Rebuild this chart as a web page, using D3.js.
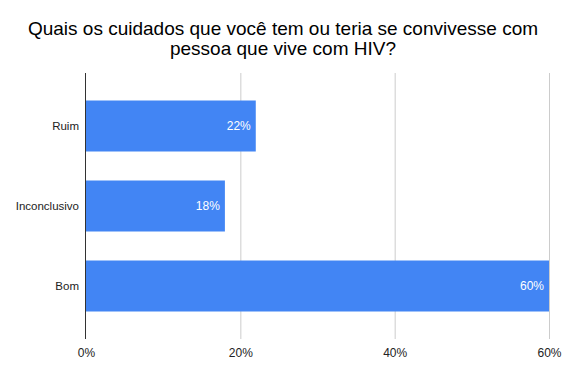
<!DOCTYPE html>
<html>
<head>
<meta charset="utf-8">
<script src="https://cdn.jsdelivr.net/npm/d3@7"></script>
<style>
  body { margin: 0; background: #fff; }
  text { font-family: "Liberation Sans", Arial, sans-serif; }
</style>
</head>
<body>
<div id="chart"></div>
<script>
// data
var categories = ['Ruim', 'Inconclusivo', 'Bom'];
var values = [22, 18, 60];
var ticks = [0, 20, 40, 60];
var titleLines = ['Quais os cuidados que você tem ou teria se convivesse com', 'pessoa que vive com HIV?'];

var width = 567, height = 378;
var margin = { top: 73, right: 18, bottom: 39, left: 86 };

var svg = d3.select('#chart').append('svg')
    .attr('width', width)
    .attr('height', height);

var x = d3.scaleLinear()
    .domain([0, 60])
    .range([margin.left, 549]);

var y = d3.scaleBand()
    .domain(categories)
    .range([margin.top, height - margin.bottom])
    .paddingInner(0.3625)
    .paddingOuter(0.34375);

// title
svg.append('g').selectAll('text')
    .data(titleLines)
    .enter().append('text')
    .attr('x', 283)
    .attr('y', function (d, i) { return 35 + i * 20; })
    .attr('text-anchor', 'middle')
    .attr('font-size', 19)
    .attr('fill', '#000')
    .text(function (d) { return d; });

// grid
svg.append('g').selectAll('line')
    .data(ticks.slice(1))
    .enter().append('line')
    .attr('x1', function (d) { return x(d) + 0.5; })
    .attr('x2', function (d) { return x(d) + 0.5; })
    .attr('y1', margin.top)
    .attr('y2', height - margin.bottom)
    .attr('stroke', '#cccccc')
    .attr('stroke-width', 1);

// bars
svg.append('g').selectAll('rect')
    .data(values)
    .enter().append('rect')
    .attr('x', x(0))
    .attr('y', function (d, i) { return y(categories[i]); })
    .attr('width', function (d) { return x(d) - x(0); })
    .attr('height', y.bandwidth())
    .attr('fill', '#4285f4');

// value labels
svg.append('g').selectAll('text')
    .data(values)
    .enter().append('text')
    .attr('x', function (d) { return x(d) - 5; })
    .attr('y', function (d, i) { return y(categories[i]) + y.bandwidth() / 2 + 4; })
    .attr('text-anchor', 'end')
    .attr('font-size', 12)
    .attr('fill', '#ffffff')
    .text(function (d) { return d + '%'; });

// y axis line
svg.append('line')
    .attr('x1', x(0) - 0.5)
    .attr('x2', x(0) - 0.5)
    .attr('y1', margin.top)
    .attr('y2', height - margin.bottom)
    .attr('stroke', '#333333')
    .attr('stroke-width', 1);

// category labels
var yAxis = d3.axisLeft(y).tickSize(0).tickPadding(7);
var yg = svg.append('g')
    .attr('transform', 'translate(' + x(0) + ',0)')
    .call(yAxis);
yg.select('.domain').remove();
yg.selectAll('text')
    .attr('font-size', 11.5)
    .attr('fill', '#222');

// x tick labels
var xAxis = d3.axisBottom(x).tickValues(ticks).tickSize(0).tickPadding(9)
    .tickFormat(function (d) { return d + '%'; });
var xg = svg.append('g')
    .attr('transform', 'translate(0,' + (height - margin.bottom) + ')')
    .call(xAxis);
xg.select('.domain').remove();
xg.selectAll('text')
    .attr('font-size', 12)
    .attr('fill', '#222');
</script>
</body>
</html>
